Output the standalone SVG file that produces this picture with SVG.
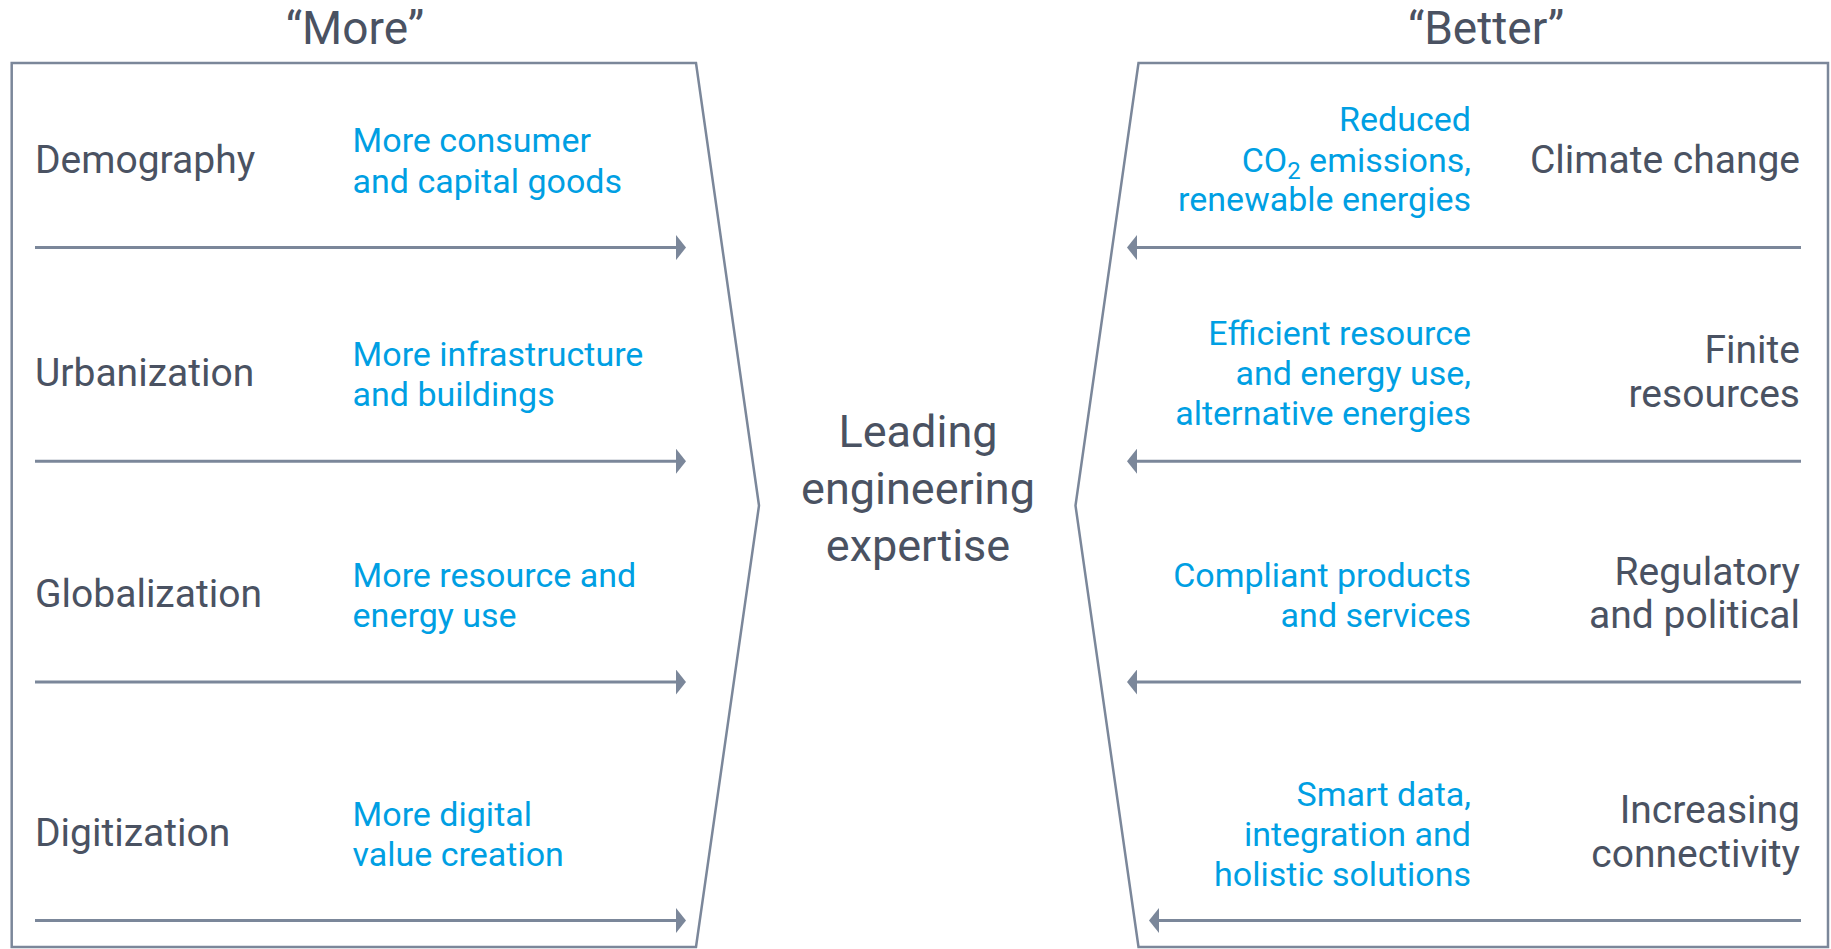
<svg xmlns="http://www.w3.org/2000/svg" width="1831" height="949" viewBox="0 0 1831 949">
<style>
.frame{fill:none;stroke:#7b879a;stroke-width:2.5;stroke-linejoin:miter}
.arr{stroke:#7b879a;stroke-width:3;fill:none}
.t{font-family:Roboto,"Liberation Sans",sans-serif;fill:#4a5262}
.lab{font-size:39px}
.blue{font-family:Roboto,"Liberation Sans",sans-serif;fill:#009fe3;font-size:34px}
.title{font-size:46px;text-anchor:middle}
.ctr{font-size:45px;text-anchor:middle}
.r{text-anchor:end}
</style>
<defs>
<marker id="ah" viewBox="0 0 10 25" refX="0" refY="12.5" markerWidth="10" markerHeight="25" markerUnits="userSpaceOnUse" orient="auto">
<path d="M0,0 L10,12.5 L0,25 Z" fill="#7b879a"/>
</marker>
</defs>
<rect width="1831" height="949" fill="#ffffff"/>
<g id="more-title"><text class="t title" x="355" y="44">“More”</text></g>
<g id="better-title"><text class="t title" x="1486" y="44">“Better”</text></g>
<g id="more-frame"><polygon class="frame" points="11.7,63 696,63 759,505.6 696,947 11.7,947"/></g>
<g id="better-frame"><polygon class="frame" points="1138.5,63 1828,63 1828,947 1138.5,947 1075.5,505.6"/></g>
<g id="center"><text class="t ctr" x="918" y="446.7">Leading</text><text class="t ctr" x="918" y="504">engineering</text><text class="t ctr" x="918" y="561">expertise</text></g>
<g id="connectors">
<line class="arr" x1="35" y1="247.6" x2="676" y2="247.6" marker-end="url(#ah)"/>
<line class="arr" x1="35" y1="461.2" x2="676" y2="461.2" marker-end="url(#ah)"/>
<line class="arr" x1="35" y1="682" x2="676" y2="682" marker-end="url(#ah)"/>
<line class="arr" x1="35" y1="920.5" x2="676" y2="920.5" marker-end="url(#ah)"/>
<line class="arr" x1="1801" y1="247.6" x2="1137" y2="247.6" marker-end="url(#ah)"/>
<line class="arr" x1="1801" y1="461.2" x2="1137" y2="461.2" marker-end="url(#ah)"/>
<line class="arr" x1="1801" y1="682" x2="1137" y2="682" marker-end="url(#ah)"/>
<line class="arr" x1="1801" y1="920.5" x2="1159" y2="920.5" marker-end="url(#ah)"/>
</g>
<g id="demography"><text class="t lab" x="35" y="172.7">Demography</text><text class="blue" x="352.6" y="151.7">More consumer</text><text class="blue" x="352.6" y="192.7">and capital goods</text></g>
<g id="urbanization"><text class="t lab" x="35" y="386">Urbanization</text><text class="blue" x="352.6" y="365.5">More infrastructure</text><text class="blue" x="352.6" y="406.3">and buildings</text></g>
<g id="globalization"><text class="t lab" x="35" y="607">Globalization</text><text class="blue" x="352.6" y="586.5">More resource and</text><text class="blue" x="352.6" y="627">energy use</text></g>
<g id="digitization"><text class="t lab" x="35" y="846">Digitization</text><text class="blue" x="352.6" y="825.5">More digital</text><text class="blue" x="352.6" y="866">value creation</text></g>
<g id="climate"><text class="t lab r" x="1800" y="172.7">Climate change</text><text class="blue r" x="1471" y="131">Reduced</text><text class="blue r" x="1471" y="171.7">CO<tspan font-size="24px" dy="7">2</tspan><tspan dy="-7"> emissions,</tspan></text><text class="blue r" x="1471" y="210.7">renewable energies</text></g>
<g id="finite"><text class="t lab r" x="1800" y="363">Finite</text><text class="t lab r" x="1800" y="407">resources</text><text class="blue r" x="1471" y="345">Efficient resource</text><text class="blue r" x="1471" y="385.2">and energy use,</text><text class="blue r" x="1471" y="425">alternative energies</text></g>
<g id="regulatory"><text class="t lab r" x="1800" y="585">Regulatory</text><text class="t lab r" x="1800" y="628">and political</text><text class="blue r" x="1471" y="586.5">Compliant products</text><text class="blue r" x="1471" y="627">and services</text></g>
<g id="connectivity"><text class="t lab r" x="1800" y="823">Increasing</text><text class="t lab r" x="1800" y="866.7">connectivity</text><text class="blue r" x="1471" y="805.5">Smart data,</text><text class="blue r" x="1471" y="846">integration and</text><text class="blue r" x="1471" y="885.5">holistic solutions</text></g>
</svg>
